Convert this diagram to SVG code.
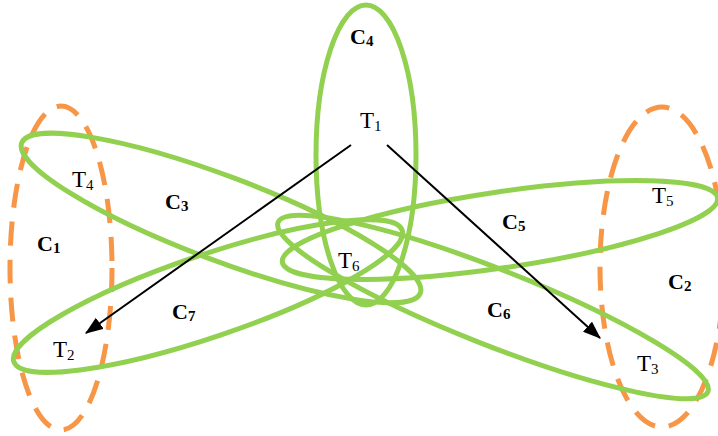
<svg xmlns="http://www.w3.org/2000/svg" width="718" height="436" viewBox="0 0 718 436">
<style>
.g{fill:none;stroke:#92D050;stroke-width:5}
.o{fill:none;stroke:#F79646;stroke-width:5;stroke-dasharray:24 14}
.a{stroke:#000;stroke-width:2;fill:none}
text{font-family:"Liberation Serif","Times New Roman",serif;fill:#000}
.c{font-size:22px;font-weight:bold}
.t{font-size:23px}
.s{font-size:15px}
</style>
<defs>
<marker id="ah" viewBox="0 0 10 10" refX="9" refY="5" markerWidth="8" markerHeight="8" markerUnits="userSpaceOnUse" orient="auto">
<path d="M0,0 L10,5 L0,10 z" fill="#000"/>
</marker>
<marker id="ah2" viewBox="0 0 16 12" refX="15" refY="6" markerWidth="18" markerHeight="14" markerUnits="userSpaceOnUse" orient="auto">
<path d="M0,0 L16,6 L0,12 z" fill="#000"/>
</marker>
</defs>
<g id="C1"><ellipse class="o" cx="61" cy="268" rx="51" ry="162"/><text class="c" x="37" y="251">C<tspan class="s" dy="2">1</tspan></text></g>
<g id="C2"><ellipse class="o" cx="662" cy="267" rx="62" ry="160"/><text class="c" x="668" y="289">C<tspan class="s" dy="2">2</tspan></text></g>
<g id="C3"><ellipse class="g" cx="221" cy="218" rx="213" ry="42" transform="rotate(20.65 221 218)"/><text class="c" x="165" y="209">C<tspan class="s" dy="2">3</tspan></text></g>
<g id="C7"><ellipse class="g" cx="208" cy="296" rx="205" ry="41" transform="rotate(-18.7 208 296)"/><text class="c" x="172" y="319">C<tspan class="s" dy="2">7</tspan></text></g>
<g id="C5"><ellipse class="g" cx="500" cy="230" rx="220" ry="38" transform="rotate(-8.4 500 230)"/><text class="c" x="502" y="229">C<tspan class="s" dy="2">5</tspan></text></g>
<g id="C6"><ellipse class="g" cx="493" cy="307" rx="231" ry="38" transform="rotate(21.5 493 307)"/><text class="c" x="487" y="317">C<tspan class="s" dy="2">6</tspan></text></g>
<g id="C4"><ellipse class="g" cx="366" cy="155" rx="50" ry="150"/><text class="c" x="350" y="44">C<tspan class="s" dy="2">4</tspan></text></g>
<g id="T1"><text class="t" x="360" y="128">T<tspan class="s" dy="3">1</tspan></text></g>
<g id="T2"><text class="t" x="53" y="357">T<tspan class="s" dy="3">2</tspan></text></g>
<g id="T3"><text class="t" x="637" y="371">T<tspan class="s" dy="3">3</tspan></text></g>
<g id="T4"><text class="t" x="72" y="187">T<tspan class="s" dy="3">4</tspan></text></g>
<g id="T5"><text class="t" x="652" y="203">T<tspan class="s" dy="3">5</tspan></text></g>
<g id="T6"><text class="t" x="338" y="268">T<tspan class="s" dy="3">6</tspan></text></g>
<g id="connectors">
<line class="a" x1="351" y1="145" x2="86" y2="333" marker-end="url(#ah2)"/>
<line class="a" x1="387" y1="145" x2="600" y2="338" marker-end="url(#ah2)"/>
</g>
</svg>
